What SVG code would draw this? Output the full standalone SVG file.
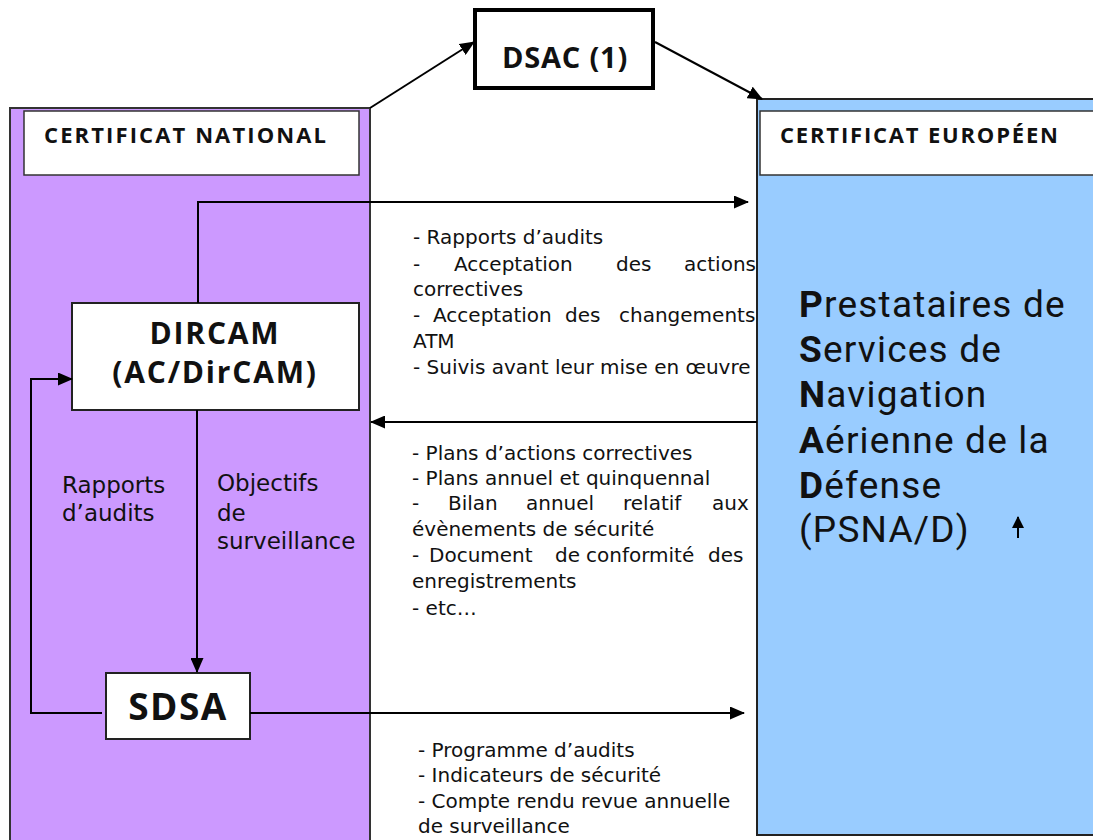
<svg xmlns="http://www.w3.org/2000/svg" width="1093" height="840" viewBox="0 0 1093 840">
<defs>
<marker id="ah" markerWidth="12" markerHeight="14" refX="11" refY="6" orient="auto" markerUnits="userSpaceOnUse" viewBox="0 0 12 12">
<path d="M0,0 L12,6 L0,12 z" fill="#000"/>
</marker>
<marker id="ahs" markerWidth="15" markerHeight="13" refX="14" refY="6.5" orient="auto" markerUnits="userSpaceOnUse" viewBox="0 0 15 13">
<path d="M0,0 L15,6.5 L0,13 z" fill="#000"/>
</marker>
</defs>
<style>
.t{font-family:"Open Sans","Liberation Sans",sans-serif;fill:#111;}
.b{font-weight:bold;}
.lbl{font-family:"DejaVu Sans","Liberation Sans",sans-serif;font-size:20px;fill:#111;}
.side{font-family:"DejaVu Sans","Liberation Sans",sans-serif;font-size:23px;fill:#111;}
.big{font-family:Roboto,"Liberation Sans",sans-serif;font-size:37px;letter-spacing:1.2px;fill:#111;}
.hdr{font-size:22px;font-weight:bold;}
.box{fill:#fff;stroke:#222;stroke-width:2;}
.con{fill:none;stroke:#000;stroke-width:2;}
</style>
<rect width="1093" height="840" fill="#fff"/>

<g id="national">
<rect x="10" y="108" width="360" height="750" fill="#CC99FF" stroke="#333" stroke-width="2"/>
<rect x="24" y="111" width="335" height="64" fill="#fff" stroke="#333" stroke-width="1.5"/>
<text class="t hdr" x="44" y="143" textLength="282" lengthAdjust="spacing">CERTIFICAT NATIONAL</text>
</g>

<g id="europeen">
<rect x="757" y="99" width="350" height="736" fill="#99CCFF" stroke="#222" stroke-width="2"/>
<rect x="760" y="111" width="340" height="64" fill="#fff" stroke="#333" stroke-width="1.5"/>
<text class="t hdr" x="780" y="143" textLength="278" lengthAdjust="spacing">CERTIFICAT EUROPÉEN</text>
</g>

<g id="psna">
<text class="big" x="799" y="317"><tspan class="b">P</tspan>restataires de</text>
<text class="big" x="799" y="362"><tspan class="b">S</tspan>ervices de</text>
<text class="big" x="799" y="407"><tspan class="b">N</tspan>avigation</text>
<text class="big" x="799" y="453"><tspan class="b">A</tspan>érienne de la</text>
<text class="big" x="799" y="498"><tspan class="b">D</tspan>éfense</text>
<text class="big" x="799" y="542">(PSNA/D)</text>
</g>

<g id="dsac">
<rect x="475" y="10" width="178" height="78" fill="#fff" stroke="#000" stroke-width="4"/>
<text class="t b" x="565" y="68" font-size="29" letter-spacing="0.8" text-anchor="middle">DSAC (1)</text>
</g>

<g id="dircam">
<rect class="box" x="72" y="303" width="287" height="107"/>
<text class="t b" x="215" y="344" font-size="30" letter-spacing="1.8" text-anchor="middle">DIRCAM</text>
<text class="t b" x="215" y="383" font-size="30" letter-spacing="1.8" text-anchor="middle">(AC/DirCAM)</text>
</g>

<g id="sdsa">
<rect class="box" x="106" y="673" width="144" height="66"/>
<text class="t b" x="178" y="720" font-size="37" letter-spacing="1.5" text-anchor="middle">SDSA</text>
</g>

<g id="connectors">
<line class="con" x1="370" y1="108" x2="474" y2="42" marker-end="url(#ahs)"/>
<line class="con" x1="655" y1="42" x2="762" y2="99" marker-end="url(#ahs)"/>
<polyline class="con" points="198,303 198,202 748,202" marker-end="url(#ahs)"/>
<line class="con" x1="757" y1="422" x2="371" y2="422" marker-end="url(#ahs)"/>
<polyline class="con" points="102,713 31,713 31,379 72,379" marker-end="url(#ahs)"/>
<line class="con" x1="197" y1="410" x2="197" y2="672" marker-end="url(#ahs)"/>
<line class="con" x1="250" y1="713" x2="744" y2="713" marker-end="url(#ahs)"/>
<line x1="1018" y1="538" x2="1018" y2="517" stroke="#000" stroke-width="2" marker-end="url(#ah)"/>
</g>

<g id="labels">
<text class="side" x="62" y="493">Rapports</text>
<text class="side" x="62" y="521">d’audits</text>
<text class="side" x="217" y="491">Objectifs</text>
<text class="side" x="217" y="521">de</text>
<text class="side" x="217" y="549">surveillance</text>

<text class="lbl" x="413" y="244">- Rapports d’audits</text>
<text class="lbl" y="271"><tspan x="413">-</tspan><tspan x="454">Acceptation</tspan><tspan x="616">des</tspan><tspan x="684">actions</tspan></text>
<text class="lbl" x="413" y="296">correctives</text>
<text class="lbl" y="322"><tspan x="413">-</tspan><tspan x="433">Acceptation</tspan><tspan x="565">des</tspan><tspan x="619">changements</tspan></text>
<text class="lbl" x="413" y="348">ATM</text>
<text class="lbl" x="413" y="374">- Suivis avant leur mise en œuvre</text>

<text class="lbl" x="412" y="460">- Plans d’actions correctives</text>
<text class="lbl" x="412" y="485">- Plans annuel et quinquennal</text>
<text class="lbl" y="510"><tspan x="412">-</tspan><tspan x="448">Bilan</tspan><tspan x="526">annuel</tspan><tspan x="623">relatif</tspan><tspan x="712">aux</tspan></text>
<text class="lbl" x="412" y="536">évènements de sécurité</text>
<text class="lbl" y="562"><tspan x="412">-</tspan><tspan x="429">Document</tspan><tspan x="555">de</tspan><tspan x="586">conformité</tspan><tspan x="708">des</tspan></text>
<text class="lbl" x="412" y="588">enregistrements</text>
<text class="lbl" x="412" y="615">- etc…</text>

<text class="lbl" x="418" y="757">- Programme d’audits</text>
<text class="lbl" x="418" y="782">- Indicateurs de sécurité</text>
<text class="lbl" x="418" y="808">- Compte rendu revue annuelle</text>
<text class="lbl" x="418" y="833">de surveillance</text>
</g>
</svg>
